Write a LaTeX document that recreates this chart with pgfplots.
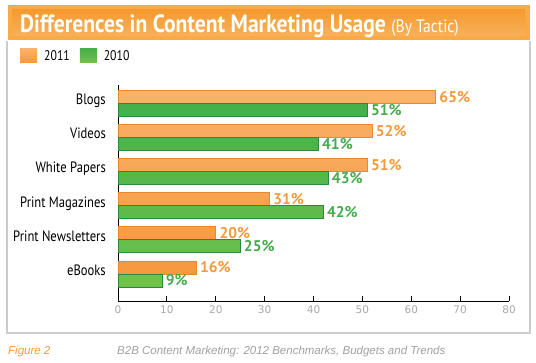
\documentclass[border=0pt]{standalone}
\usepackage{fontspec}
\usepackage{pgfplots}
\pgfplotsset{compat=1.18}
\setmainfont{PT Sans}
\newfontfamily\condfont[FakeStretch=0.84]{PT Sans}
\newfontfamily\titlefont[FakeStretch=0.865]{PT Sans}
\newfontfamily\tickfont{DejaVu Sans}
\newfontfamily\footfont{Liberation Sans}
\definecolor{orT}{HTML}{FAB26A}
\definecolor{orB}{HTML}{F6983E}
\definecolor{orD}{HTML}{E8892E}
\definecolor{orL}{HTML}{F39A3C}
\definecolor{grT}{HTML}{45AF4A}
\definecolor{grB}{HTML}{72C24A}
\definecolor{grD}{HTML}{2A8A3A}
\definecolor{grL}{HTML}{47AB4D}
\definecolor{barOut}{HTML}{F9AA45}
\definecolor{barInT}{HTML}{F59A2E}
\definecolor{barInB}{HTML}{F8B05A}
\definecolor{frameG}{HTML}{CCCCCC}
\definecolor{tickG}{HTML}{A8A8A8}
\definecolor{footG}{HTML}{A0A0A0}
\begin{document}
\begin{tikzpicture}[x=1bp,y=1bp]
\path[use as bounding box] (0,0) rectangle (536,362);
% frame
\draw[frameG, line width=1.2bp] (7,321) -- (7,29) -- (530,29) -- (530,321);
% title bar
\fill[barOut] (8,357) rectangle (530,322);
\shade[top color=barInT, bottom color=barInB] (12,352) rectangle (525,327);
\node[anchor=base west, inner sep=0, text=white] at (20,330)
  {\titlefont\bfseries\fontsize{25bp}{28bp}\selectfont Differences in Content Marketing Usage\ {\fontsize{18bp}{20bp}\selectfont\mdseries (By Tactic)}};
\begin{axis}[
  at={(118bp,61bp)}, anchor=south west,
  scale only axis, width=391bp, height=216bp,
  xmin=0, xmax=80, ymin=-0.794, ymax=5.53,
  axis x line*=bottom, axis y line*=left,
  axis line style={-, black, line width=1bp},
  /pgf/number format/assume math mode=true,
  xtick={0,10,...,80},
  xtick align=inside,
  major tick length=5bp,
  xtick style={black, line width=1bp},
  xticklabel style={text=tickG, font=\tickfont\fontsize{10.5bp}{12bp}\selectfont, yshift=-1bp},
  ytick={0,1,2,3,4,5},
  yticklabels={eBooks, Print Newsletters, Print Magazines, White Papers, Videos, Blogs},
  ytick style={draw=none},
  yticklabel style={anchor=base east, inner sep=0pt, yshift=-1.5bp, xshift=-7bp, font=\condfont\fontsize{15bp}{17bp}\selectfont, text=black},
  xbar, bar width=13bp,
  nodes near coords={\pgfmathprintnumber{\pgfplotspointmeta}\%},
  every node near coord/.append style={anchor=west, inner sep=1.5bp, xshift=2bp, font=\bfseries\fontsize{15.5bp}{17bp}\selectfont},
  legend style={at={(-0.2506,1.172)}, anchor=north west, draw=none, fill=none, inner sep=0pt,
     font=\condfont\fontsize{14bp}{16bp}\selectfont, legend columns=-1,
     /tikz/every odd column/.append style={column sep=5bp},
     /tikz/every even column/.append style={column sep=8bp}},
  legend image code/.code={\fill[#1, draw=none] (0bp,-7bp) rectangle (17bp,7bp);},
]
\addplot[bar shift=6.5bp, draw=orD, line width=0.6bp, top color=orT, bottom color=orB,
  every node near coord/.append style={text=orL}]
  coordinates {(65,5) (52,4) (51,3) (31,2) (20,1) (16,0)};
\addlegendentry{2011}
\addplot[bar shift=-6.5bp, draw=grD, line width=0.6bp, top color=grT, bottom color=grB,
  every node near coord/.append style={text=grL}]
  coordinates {(51,5) (41,4) (43,3) (42,2) (25,1) (9,0)};
\addlegendentry{2010}
\end{axis}
% footer
\node[anchor=base west, inner sep=0, text=orL] at (8,8)
  {\footfont\itshape\fontsize{11.5bp}{13bp}\selectfont Figure 2};
\node[anchor=base west, inner sep=0, text=footG] at (117,8)
  {\footfont\itshape\fontsize{11.5bp}{13bp}\selectfont B2B Content Marketing: 2012 Benchmarks, Budgets and Trends};
\end{tikzpicture}
\end{document}
